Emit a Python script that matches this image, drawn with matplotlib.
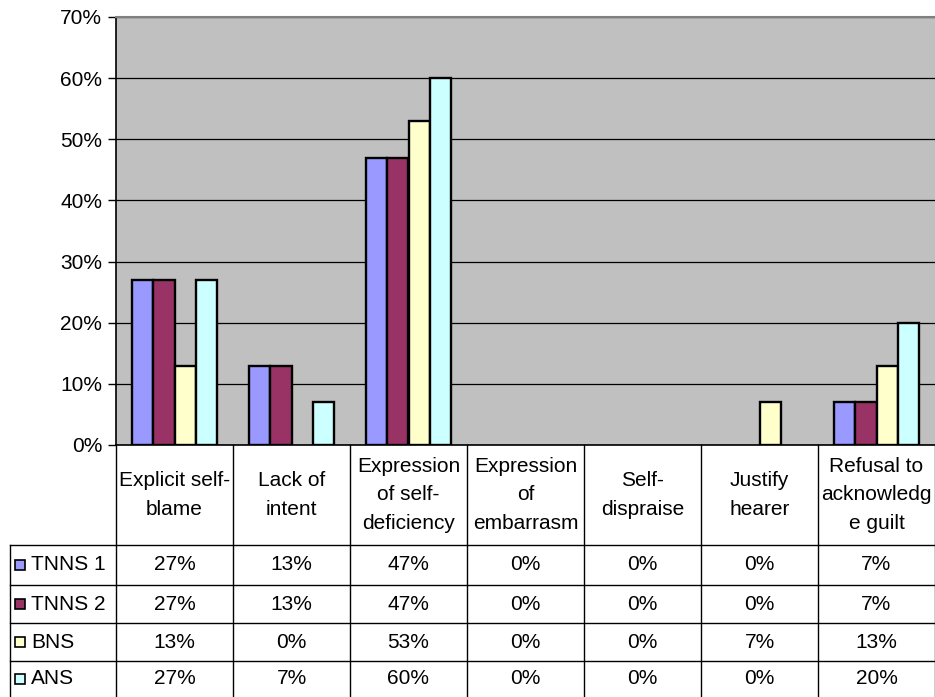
"""Excel-style clustered bar chart with a data table underneath."""

import matplotlib

matplotlib.use("Agg")

import matplotlib.pyplot as plt
from matplotlib.patches import Rectangle
from matplotlib.ticker import FuncFormatter, MultipleLocator

plt.rcParams["font.family"] = ["Liberation Sans", "DejaVu Sans"]

categories = [
    "Explicit self-\nblame",
    "Lack of\nintent",
    "Expression\nof self-\ndeficiency",
    "Expression\nof\nembarrasm",
    "Self-\ndispraise",
    "Justify\nhearer",
    "Refusal to\nacknowledg\ne guilt",
]
series_names = ["TNNS 1", "TNNS 2", "BNS", "ANS"]
tnns1 = [27, 13, 47, 0, 0, 0, 7]
tnns2 = [27, 13, 47, 0, 0, 0, 7]
bns = [13, 0, 53, 0, 0, 7, 13]
ans = [27, 7, 60, 0, 0, 0, 20]
series_values = [tnns1, tnns2, bns, ans]
colors = ["#9999FF", "#993366", "#FFFFCC", "#CCFFFF"]

W, H = 935, 697
PLOT_L, PLOT_R, PLOT_T, PLOT_B = 116, 935, 17, 445
HEADER_B = 545
ROW_LINES = [545, 585, 623, 661, 697]
TABLE_L = 10
FS = 15

fig = plt.figure(figsize=(W / 100, H / 100), dpi=100)
fig.patch.set_facecolor("white")

ax = fig.add_axes([PLOT_L / W, 1 - PLOT_B / H, (PLOT_R - PLOT_L) / W, (PLOT_B - PLOT_T) / H])
ax.set_facecolor("#C0C0C0")
n = len(categories)
bar_w = 0.18
offsets = [(i - 1.5) * bar_w for i in range(len(series_names))]
for vals, off, col in zip(series_values, offsets, colors):
    xs = [i + off for i in range(n)]
    # Excel draws nothing for zero-height bars
    widths = [1.7 if v else 0 for v in vals]
    ax.bar(xs, [v / 100 for v in vals], width=bar_w, color=col,
           edgecolor="black", linewidth=widths, zorder=3)

ax.set_xlim(-0.5, n - 0.5)
ax.set_ylim(0, 0.7)
ax.yaxis.set_major_locator(MultipleLocator(0.1))
ax.yaxis.set_major_formatter(FuncFormatter(lambda v, _: f"{round(v * 100)}%"))
ax.yaxis.grid(True, color="black", linewidth=0.9, zorder=1)
ax.set_axisbelow(True)
ax.set_xticks([])
ax.tick_params(axis="y", direction="out", length=6, width=1, labelsize=FS, pad=4)
for side in ("left", "bottom"):
    ax.spines[side].set_color("black")
    ax.spines[side].set_linewidth(1.2)
ax.spines["top"].set_color("#808080")
ax.spines["top"].set_linewidth(1.5)
ax.spines["right"].set_visible(False)

# data table drawn in pixel coordinates
tx = fig.add_axes([0, 0, 1, 1], facecolor="none")
tx.set_xlim(0, W)
tx.set_ylim(H, 0)
tx.axis("off")

col_w = (PLOT_R - PLOT_L) / n
line_kw = dict(color="black", linewidth=1)
for i in range(n + 1):
    x = PLOT_L + i * col_w
    tx.plot([x, x], [PLOT_B, H], **line_kw)
tx.plot([TABLE_L, TABLE_L], [HEADER_B, H], **line_kw)
for y in ROW_LINES[:-1]:
    tx.plot([TABLE_L, W], [y, y], **line_kw)

for i, cat in enumerate(categories):
    cx = PLOT_L + (i + 0.5) * col_w
    tx.text(cx, (PLOT_B + HEADER_B) / 2, cat, ha="center", va="center",
            fontsize=FS, linespacing=1.62)

for r, (name, vals, col) in enumerate(zip(series_names, series_values, colors)):
    cy = (ROW_LINES[r] + ROW_LINES[r + 1]) / 2
    tx.add_patch(Rectangle((15, cy - 5), 10, 10, facecolor=col,
                           edgecolor="black", linewidth=1.2))
    tx.text(31, cy, name, ha="left", va="center", fontsize=FS)
    for i, v in enumerate(vals):
        cx = PLOT_L + (i + 0.5) * col_w
        tx.text(cx, cy, f"{v}%", ha="center", va="center", fontsize=FS)

fig.savefig("out.png", dpi=100)
